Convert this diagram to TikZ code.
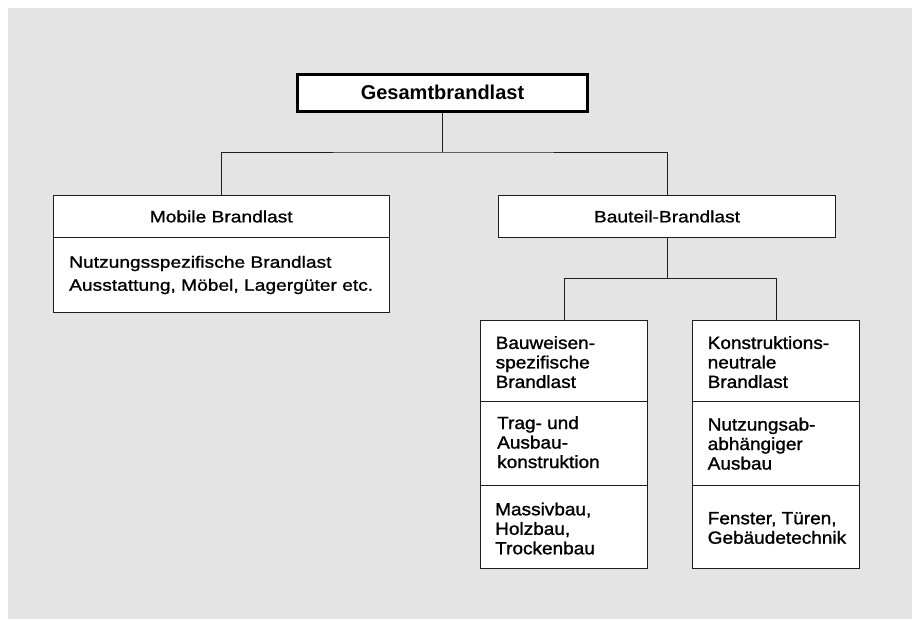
\documentclass[tikz,border=0pt]{standalone}
\usepackage{fontspec}
\setmainfont{Liberation Sans}
\newfontfamily\upfont{Liberation Sans}[FakeStretch=1.17,FakeBold=1.1]
\newfontfamily\lowfont{Liberation Sans}[FakeStretch=1.08,FakeBold=1.3]
\usetikzlibrary{calc}
\definecolor{bgc}{RGB}{227,228,227}
\definecolor{linec}{RGB}{30,30,30}
\tikzset{
  sect/.style={draw=linec, line width=1pt, fill=white, inner sep=0pt, outer sep=0pt, anchor=north west},
  uptext/.style={font={\upfont\fontsize{16.4}{23}\selectfont}, inner sep=0pt, align=left},
  lowtext/.style={font={\lowfont\fontsize{17.6}{19.5}\selectfont}, inner sep=0pt, align=left, anchor=west},
  conn/.style={draw=linec, line width=1pt},
}
\begin{document}
\begin{tikzpicture}[x=1pt,y=-1pt]
\useasboundingbox (0,0) rectangle (912,619);
\fill[white] (0,0) rectangle (912,619);
\fill[bgc] (8,8) rectangle (912,619);

% top box
\node[draw=black, line width=3pt, fill=white, minimum width=290pt, minimum height=37pt, inner sep=0pt,
      font={\bfseries\fontsize{20}{24}\selectfont}] (ges) at (442.5,92.7) {Gesamtbrandlast};

% Mobile Brandlast
\node[sect, minimum width=336.5pt, minimum height=42pt] (mobh) at (53,195.5) {};
\node[uptext] (mobht) at (mobh.center) {Mobile Brandlast};
\node[sect, minimum width=336.5pt, minimum height=75pt] (mobb) at (mobh.south west) {};
\node[uptext, anchor=west] (mobbt) at ([xshift=16pt]mobb.west) {Nutzungsspezifische Brandlast\\Ausstattung, Möbel, Lagergüter etc.};

% Bauteil-Brandlast
\node[sect, minimum width=337pt, minimum height=42pt] (bauh) at (498.5,195.5) {};
\node[uptext] (bauht) at (bauh.center) {Bauteil-Brandlast};

% lower left
\node[sect, minimum width=167pt, minimum height=81.2pt] (l1) at (480.5,320.5) {};
\node[sect, minimum width=167pt, minimum height=84pt] (l2) at (l1.south west) {};
\node[sect, minimum width=167pt, minimum height=82.6pt] (l3) at (l2.south west) {};
\node[lowtext] (l1t) at ([xshift=15pt,yshift=-1pt]l1.west) {Bauweisen-\\spezifische\\Brandlast};
\node[lowtext] (l2t) at ([xshift=16.5pt,yshift=1.5pt]l2.west) {Trag- und\\Ausbau-\\konstruktion};
\node[lowtext] (l3t) at ([xshift=14.5pt,yshift=-1.5pt]l3.west) {Massivbau,\\Holzbau,\\Trockenbau};

% lower right
\node[sect, minimum width=167pt, minimum height=81.2pt] (r1) at (692.5,320.5) {};
\node[sect, minimum width=167pt, minimum height=84pt] (r2) at (r1.south west) {};
\node[sect, minimum width=167pt, minimum height=82.6pt] (r3) at (r2.south west) {};
\node[lowtext] (r1t) at ([xshift=15pt,yshift=-1pt]r1.west) {Konstruktions-\\neutrale\\Brandlast};
\node[lowtext] (r2t) at ([xshift=15pt]r2.west) {Nutzungsab-\\abhängiger\\Ausbau};
\node[lowtext] (r3t) at ([xshift=15pt,yshift=-1pt]r3.west) {Fenster, Türen,\\Gebäudetechnik};

% connectors
\path (ges.south) ++(0,39.3) coordinate (j1);
\draw[conn] (ges.south) -- (j1);
\draw[conn] (mobh.north) |- (j1) -| (bauh.north);
\path (bauh.south) ++(0,41) coordinate (j2);
\draw[conn] (bauh.south) -- (j2);
\draw[conn] (l1.north) |- (j2) -| (r1.north);
\end{tikzpicture}
\end{document}
